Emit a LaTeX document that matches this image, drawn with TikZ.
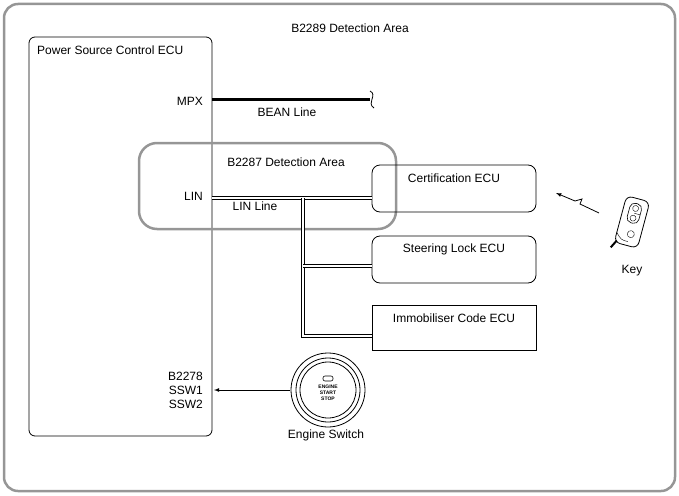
\documentclass[tikz,border=0pt]{standalone}
\usepackage{fontspec}
\setmainfont{Liberation Sans}
\usetikzlibrary{arrows, positioning, calc, decorations.pathmorphing}
\definecolor{grisito}{RGB}{150,150,150}
\tikzset{>=latex}
\tikzset{
  ecu/.style={draw, rounded corners=8pt, line width=0.8pt, minimum width=164pt, minimum height=47pt},
  linbus/.style={draw, double, double distance=2pt, line width=0.8pt},
  lbl/.style={font=\fontsize{12}{14}\selectfont, inner sep=0pt}
}
\begin{document}
\begin{tikzpicture}[x=1pt, y=-1pt]
	\useasboundingbox (0,0) rectangle (679,495);
	% outer frame
	\draw [grisito, line width=2.5pt, rounded corners=14pt] (4,4) rectangle (675,491);
	\node [lbl] (titulo) at (350,28) {B2289 Detection Area};
	% power source control ECU
	\draw [line width=0.8pt, rounded corners=6pt] (29,37) rectangle (212,436);
	\node [lbl, anchor=west] (pscecu) at (37,50) {Power Source Control ECU};
	\node [lbl, anchor=east] (mpx) at (203,101) {MPX};
	\node [lbl, anchor=east] (lin) at (203,196) {LIN};
	\node [lbl, anchor=east, align=right] (ssw) at (203,390) {B2278\\SSW1\\SSW2};
	% BEAN line
	\coordinate (beanA) at (212,99);
	\coordinate (beanB) at (370,99);
	\draw [line width=3pt] (beanA) -- (beanB);
	\draw [line width=0.8pt] (370,91) .. controls (378,95) and (366,103) .. (374,108);
	\node [lbl] (bean) at (287,112) {BEAN Line};
	% B2287 area
	\draw [grisito, line width=2.5pt, rounded corners=18pt] (139,143) rectangle (396,229);
	\node [lbl] (area) at (286,162) {B2287 Detection Area};
	% ECUs
	\node [ecu] (cert) at (454,188.5) {};
	\node [lbl, below=9pt of cert.north] {Certification ECU};
	\node [ecu] (steer) at (454,259.5) {};
	\node [lbl, below=8pt of steer.north] {Steering Lock ECU};
	\node [ecu, rounded corners=0pt, minimum height=45pt] (immo) at (454,327.5) {};
	\node [lbl, below=9pt of immo.north] {Immobiliser Code ECU};
	% LIN line
	\coordinate (linA) at (212,198);
	\coordinate (tap) at (303,198);
	\draw [linbus] (linA) -- (cert.west |- linA);
	\draw [linbus] (tap) |- (immo.west |- 0,336);
	\draw [linbus] (tap |- 0,266) -- (steer.west |- 0,266);
	\node [lbl] (linlbl) at (255,206) {LIN Line};
	% key
	\node [lbl] (key) at (632,271) {Key};
	\begin{scope}[shift={(632,222)}, rotate=-15]
		\draw [line width=0.8pt, rounded corners=6pt] (-12,-24) rectangle (12,24);
		\draw [line width=0.6pt, rounded corners=5pt] (-6,-19) rectangle (6,1);
		\draw (0,-9) -- ++(6,0);
		\draw (0,-14) circle (3pt) (0,-4) circle (3pt) (2,12) circle (3.5pt);
		\draw (-12,14) .. controls (-6,20) .. (1,20);
		\draw [line width=2pt] (-10,22) -- (-14,30);
	\end{scope}
	% wireless arrow
	\coordinate (kfrom) at (599,213);
	\coordinate (kto) at (556,193);
	\draw [line width=0.8pt] (kfrom) -- (580,204) -- (582,199) -- (575,201);
	\draw [line width=0.8pt, ->] (575,201) -- (kto);
	% engine switch
	\coordinate (esw) at (328,390);
	\draw [line width=0.8pt] (esw) circle (37pt) (esw) circle (32pt) (esw) circle (28pt);
	\draw [line width=0.6pt, rounded corners=2pt] ($(esw)+(-5,-14)$) rectangle ($(esw)+(5,-9)$);
	\node [font=\bfseries\fontsize{5}{6}\selectfont, align=center, inner sep=0pt] (eswtxt) at ($(esw)+(0,3)$) {ENGINE\\START\\STOP};
	\node [lbl] (eswlbl) at (326,435) {Engine Switch};
	\draw [line width=0.8pt, ->] (290,390) -- (214,390);
\end{tikzpicture}
\end{document}
